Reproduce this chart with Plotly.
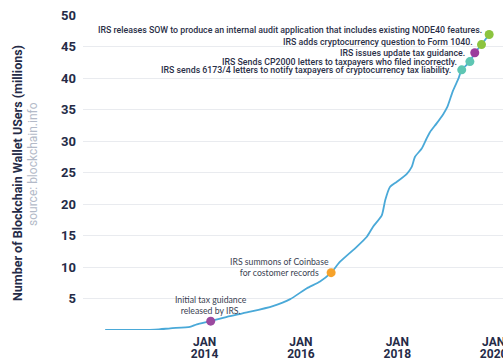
import plotly.graph_objects as go

# ---- data ----
dates = ["2011-12-09", "2012-12-20", "2013-04-16", "2013-09-12", "2013-11-03",
         "2014-02-16", "2014-07-12", "2014-12-13", "2015-06-02", "2015-10-12",
         "2016-02-13", "2016-05-25", "2016-08-17", "2016-10-22", "2017-02-27",
         "2017-05-15", "2017-07-01", "2017-09-05", "2017-10-01", "2017-11-06",
         "2017-12-27", "2018-03-14", "2018-04-20", "2018-05-15", "2018-07-05",
         "2018-08-11", "2018-09-05", "2018-10-26", "2018-12-16", "2019-01-15",
         "2019-02-27", "2019-04-09", "2019-05-04", "2019-07-05", "2019-08-11",
         "2019-10-01", "2019-11-28"]
users_m = [0.0, 0.05, 0.27, 0.5, 0.9,
           1.4, 2.2, 2.9, 3.8, 4.9,
           6.6, 7.7, 9.1, 10.8, 13.2,
           14.8, 16.4, 18.2, 20.6, 22.7,
           23.5, 24.8, 25.9, 27.5, 28.8,
           30.4, 31.4, 32.8, 34.3, 35.4,
           38.0, 39.9, 41.3, 42.6, 44.0,
           45.3, 46.9]

event_dates = ["2014-02-16", "2016-08-17", "2019-05-04", "2019-07-05",
               "2019-08-11", "2019-10-01", "2019-11-28"]
event_values = [1.4, 9.1, 41.3, 42.6, 44.0, 45.3, 46.9]
event_texts = [
    "Initial tax guidance<br>released by IRS.",
    "IRS summons of Coinbase<br>for costomer records",
    "IRS sends 6173/4 letters to notify taxpayers of cryptocurrency tax liability.",
    "IRS Sends CP2000 letters to taxpayers who filed incorrectly.",
    "IRS issues update tax guidance.",
    "IRS adds cryptocurrency question to Form 1040.",
    "IRS releases SOW to produce an internal audit application that includes existing NODE40 features.",
]
event_colors = ["#9b4a9f", "#f6a22b", "#5ec6b3", "#5ec6b3", "#9b3d9d", "#8cc43f", "#8cc43f"]

y_ticks = [0, 5, 10, 15, 20, 25, 30, 35, 40, 45, 50]
y_ticktext = ["", "5", "10", "15", "20", "25", "30", "35", "40", "45", "50"]
x_ticks = ["2014-01-01", "2016-01-01", "2018-01-01", "2020-01-01"]
x_month_text = ["JAN", "JAN", "JAN", "JAN"]
x_year_text = ["2014", "2016", "2018", "2020"]

x_range = ["2011-06-24", "2020-03-12"]

NAVY = "#252b47"

fig = go.Figure()
fig.add_trace(go.Scatter(
    x=dates, y=users_m, mode="lines",
    line=dict(color="#4aa9d8", width=1.8, shape="spline", smoothing=0.6),
    hoverinfo="skip", showlegend=False, cliponaxis=False,
))
fig.add_trace(go.Scatter(
    x=event_dates, y=event_values, mode="markers",
    marker=dict(color=event_colors, size=9, line=dict(width=0)),
    hoverinfo="skip", showlegend=False, cliponaxis=False,
))
# invisible trace to carry the second (year) x axis
fig.add_trace(go.Scatter(
    x=x_ticks, y=[None] * len(x_ticks), xaxis="x2", mode="markers",
    hoverinfo="skip", showlegend=False,
))

# annotation styling: (xanchor, xshift, yshift, font family, size, weight, align)
ann_style = [
    ("center", 0, 16, "Lato", 8.7, 400, "center"),
    ("center", -52, 6, "Lato", 8.7, 400, "center"),
    ("right", -9, 0, "Roboto", 8.8, 500, "right"),
    ("right", -11, 0, "Roboto", 8.8, 500, "right"),
    ("right", -8, 0, "Roboto", 8.8, 500, "right"),
    ("right", -7, 3, "Roboto", 8.8, 500, "right"),
    ("right", -5, 5, "Roboto", 8.8, 500, "right"),
]
annotations = []
for d, v, t, st in zip(event_dates, event_values, event_texts, ann_style):
    xa, xs, ys, fam, sz, wt, al = st
    annotations.append(dict(
        x=d, y=v, xref="x", yref="y", text=t, showarrow=False,
        xanchor=xa, yanchor="middle", xshift=xs, yshift=ys, align=al,
        font=dict(family=fam, size=sz, color="#3a3f52" if fam == "Lato" else "#2b3048",
                  weight=wt),
    ))
annotations.append(dict(
    x=17, y=173, xref="paper", yref="paper", text="Number of Blockchain Wallet USers (millions)",
    showarrow=False, textangle=-90, xanchor="center", yanchor="middle",
    font=dict(family="Roboto", size=12.5, color=NAVY, weight=700),
))
annotations.append(dict(
    x=33, y=164, xref="paper", yref="paper", text="source: blockchain.info",
    showarrow=False, textangle=-90, xanchor="center", yanchor="middle",
    font=dict(family="Roboto", size=12, color="#b3bac8"),
))
# convert pixel positions for the two side labels to paper coords
L, R, T, B, W, H = 83, 0, 15, 30, 503, 360
for a in annotations[-2:]:
    a["x"] = (a["x"] - L) / (W - L - R)
    a["y"] = (H - B - a["y"]) / (H - T - B)

fig.update_layout(
    width=503, height=360,
    margin=dict(l=L, r=R, t=T, b=B),
    paper_bgcolor="white", plot_bgcolor="white",
    font=dict(family="Roboto", color=NAVY),
    annotations=annotations,
    xaxis=dict(
        type="date", range=x_range, showgrid=False, zeroline=False, showline=False,
        tickvals=x_ticks, ticktext=x_month_text, ticks="",
        tickfont=dict(family="Roboto", size=12, color=NAVY, weight=700),
        ticklabelstandoff=3, ticklabeloverflow="allow", automargin=False,
    ),
    xaxis2=dict(
        type="date", overlaying="x", matches="x", side="bottom", anchor="y",
        showgrid=False, zeroline=False, showline=False,
        tickvals=x_ticks, ticktext=x_year_text, ticks="",
        tickfont=dict(family="Roboto", size=12, color=NAVY, weight=700),
        ticklabelstandoff=15, ticklabeloverflow="allow", automargin=False,
    ),
    yaxis=dict(
        range=[0, 50], tickvals=y_ticks, ticktext=y_ticktext,
        showgrid=True, gridcolor="#e9ebef", gridwidth=1, zeroline=False, showline=False,
        ticks="", tickfont=dict(family="Roboto", size=13, color=NAVY, weight=700),
        ticklabelstandoff=6, automargin=False,
    ),
)

fig.write_html("out.html")
